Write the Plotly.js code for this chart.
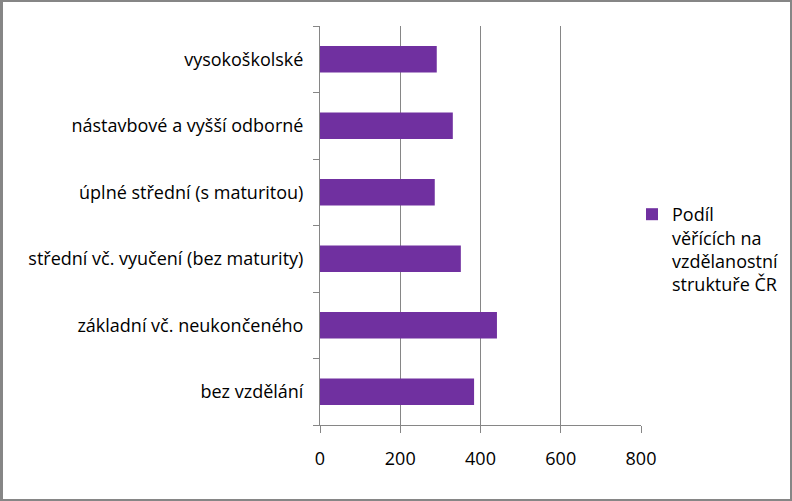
<!DOCTYPE html>
<html>
<head>
<meta charset="utf-8">
<script src="https://cdn.plot.ly/plotly-3.0.1.min.js"></script>
<style>
html,body{margin:0;padding:0;background:#fff;}
#wrap{position:relative;width:792px;height:501px;}
#chart{width:792px;height:501px;}
#frame{position:absolute;left:0;top:0;width:792px;height:501px;box-sizing:border-box;border:2px solid #868686;border-left-width:3px;pointer-events:none;}
</style>
</head>
<body>
<div id="wrap"><div id="chart"></div><div id="frame"></div></div>
<script>
var categories = [
  "bez vzdělání",
  "základní vč. neukončeného",
  "střední vč. vyučení (bez maturity)",
  "úplné střední (s maturitou)",
  "nástavbové a vyšší odborné",
  "vysokoškolské"
];
var values = [384, 441, 351, 286, 331, 291];
var seriesName = "Podíl<br>věřících na<br>vzdělanostní<br>struktuře ČR";
var xTicks = [0, 200, 400, 600, 800];

var font = "'Open Sans', 'Noto Sans', sans-serif";
var trace = {
  type: "bar",
  orientation: "h",
  y: categories,
  x: values,
  name: seriesName,
  marker: {color: "#7030A0"},
  showlegend: true,
  hoverinfo: "x+y"
};
var layout = {
  width: 792, height: 501,
  margin: {l: 320, r: 151, t: 26, b: 76, autoexpand: false},
  paper_bgcolor: "#fff", plot_bgcolor: "#fff",
  font: {family: font, size: 17, color: "#000"},
  bargap: 0.6,
  showlegend: true,
  legend: {xref: "container", yref: "container", x: 0.798, xanchor: "left", y: 0.502, yanchor: "middle",
           valign: "top",
           font: {family: font, size: 18, color: "#000"},
           bgcolor: "rgba(0,0,0,0)", itemwidth: 30, tracegroupgap: 0},
  xaxis: {
    range: [0, 800], tickvals: xTicks, ticktext: xTicks.map(String),
    showgrid: true, gridcolor: "#868686", gridwidth: 1,
    zeroline: false, showline: true, linecolor: "#868686", linewidth: 1,
    ticks: "outside", ticklen: 7, tickcolor: "#868686",
    tickfont: {family: font, size: 18, color: "#000"}, ticklabelstandoff: 10,
    fixedrange: true, automargin: false
  },
  yaxis: {
    type: "category", categoryorder: "array", categoryarray: categories,
    showgrid: false, zeroline: false, showline: true, linecolor: "#868686", linewidth: 1,
    ticks: "outside", ticklen: 6, tickcolor: "#868686", tickson: "boundaries",
    tickfont: {family: font, size: 18, color: "#000"}, ticklabelstandoff: 12,
    fixedrange: true, automargin: false
  }
};
Plotly.newPlot("chart", [trace], layout, {displayModeBar: false, staticPlot: true});
</script>
</body>
</html>
